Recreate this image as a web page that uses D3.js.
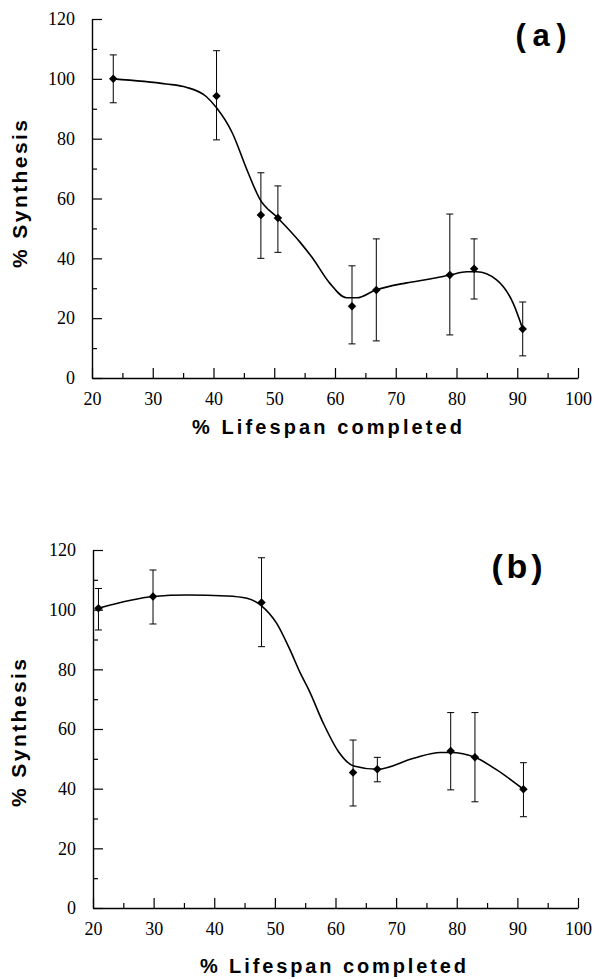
<!DOCTYPE html>
<html>
<head>
<meta charset="utf-8">
<script src="https://cdn.jsdelivr.net/npm/d3@7"></script>
<style>
  body { margin: 0; background: #fff; }
  svg { display: block; }
</style>
</head>
<body>
<svg id="chart" width="599" height="979"></svg>
<script>
// Panel (a) data: % lifespan completed vs % synthesis, with error bars
var lifespanA = [23.5, 40.5, 47.8, 50.6, 62.8, 66.8, 78.9, 82.9, 90.9];
var synthesisA = [100, 94.3, 54.5, 53.5, 24, 29.4, 34.4, 36.5, 16.4];
var errLowA = [92, 79.6, 40, 42, 11.4, 12.4, 14.4, 26.4, 7.4];
var errHighA = [108, 109.4, 68.6, 64.2, 37.5, 46.5, 54.8, 46.5, 25.4];

// fitted curve of panel (a)
var curveXA = [23.5, 32.2, 35.5, 38.8, 40.5, 43.1, 45.5, 47.6, 50.6, 54.2, 56.3, 59.1, 61.9, 63.6, 66.7, 71.8, 75.6, 78.9, 81.7, 83.3, 86.6, 89.3, 90.9];
var curveYA = [100, 98.3, 97.2, 94.1, 90.3, 81.9, 69.6, 59.9, 53.5, 45.5, 40.1, 31.8, 26.8, 26.8, 29.4, 31.8, 33.1, 34.4, 35.5, 35.5, 32.8, 25.1, 16.4];

// Panel (b) data
var lifespanB = [20.9, 29.9, 47.8, 62.9, 66.9, 79.0, 83.0, 91.0];
var synthesisB = [100.5, 104.4, 102.4, 45.4, 46.5, 52.6, 50.5, 39.8];
var errLowB = [93.2, 95.2, 87.6, 34.2, 42.3, 39.6, 35.6, 30.6];
var errHighB = [107.1, 113.3, 117.4, 56.3, 50.5, 65.5, 65.5, 48.7];

// fitted curve of panel (b)
var curveXB = [20.9, 30, 35.5, 42.1, 45.4, 47.8, 50.3, 52.5, 54.2, 55.6, 58.0, 60.5, 63.0, 66.9, 72.9, 77.3, 79.0, 83.0, 86.6, 91.0];
var curveYB = [100.5, 104.4, 104.9, 104.6, 103.8, 101.3, 95.4, 86.5, 78.7, 73.1, 61.9, 52.4, 47.6, 46.5, 50.2, 52.1, 52.1, 50.5, 46.3, 39.8];

// Axis ticks
var xMajor = [20, 30, 40, 50, 60, 70, 80, 90, 100];
var xMinor = [25, 35, 45, 55, 65, 75, 85, 95];
var yMajor = [0, 20, 40, 60, 80, 100, 120];
var yMinor = [10, 30, 50, 70, 90, 110];

var svg = d3.select("#chart");

function drawPanel(opt) {
  var x = d3.scaleLinear().domain([20, 100]).range([opt.left, opt.right]);
  var y = d3.scaleLinear().domain([0, 120]).range([opt.bottom, opt.top]);
  var g = svg.append("g");

  // x axis, ticks pointing inward
  g.append("g")
    .attr("transform", "translate(0," + opt.bottom + ")")
    .call(d3.axisBottom(x).tickValues(xMajor).tickSize(-10).tickSizeOuter(0).tickPadding(14).tickFormat(d3.format("d")));
  g.append("g")
    .attr("transform", "translate(0," + opt.bottom + ")")
    .call(d3.axisBottom(x).tickValues(xMinor).tickSize(-5).tickFormat(""))
    .select(".domain").remove();

  // y axis, ticks pointing inward
  g.append("g")
    .attr("transform", "translate(" + opt.left + ",0)")
    .call(d3.axisLeft(y).tickValues(yMajor).tickSize(-10).tickSizeOuter(0).tickPadding(17).tickFormat(d3.format("d")));
  g.append("g")
    .attr("transform", "translate(" + opt.left + ",0)")
    .call(d3.axisLeft(y).tickValues(yMinor).tickSize(-5).tickFormat(""))
    .select(".domain").remove();

  g.selectAll(".domain").attr("stroke", "#000").attr("stroke-width", 1.4);
  g.selectAll(".tick line").attr("stroke", "#000").attr("stroke-width", 1.2);
  g.selectAll(".tick text")
    .attr("fill", "#000")
    .style("font-family", "'Liberation Serif', 'Times New Roman', serif")
    .style("font-size", "18px");

  // fitted curve
  var pts = opt.cx.map(function(d, i) { return [d, opt.cy[i]]; });
  var line = d3.line()
    .x(function(d) { return x(d[0]); })
    .y(function(d) { return y(d[1]); })
    .curve(d3.curveMonotoneX);
  g.append("path")
    .datum(pts)
    .attr("fill", "none")
    .attr("stroke", "#000")
    .attr("stroke-width", 1.6)
    .attr("d", line);

  // error bars
  var data = opt.xs.map(function(d, i) {
    return { x: d, y: opt.ys[i], lo: opt.lo[i], hi: opt.hi[i] };
  });
  var eb = g.selectAll(".err").data(data).enter().append("g");
  eb.append("line")
    .attr("x1", function(d) { return x(d.x); })
    .attr("x2", function(d) { return x(d.x); })
    .attr("y1", function(d) { return y(d.lo); })
    .attr("y2", function(d) { return y(d.hi); })
    .attr("stroke", "#000").attr("stroke-width", 1);
  ["lo", "hi"].forEach(function(k) {
    eb.append("line")
      .attr("x1", function(d) { return x(d.x) - 3.5; })
      .attr("x2", function(d) { return x(d.x) + 3.5; })
      .attr("y1", function(d) { return y(d[k]); })
      .attr("y2", function(d) { return y(d[k]); })
      .attr("stroke", "#000").attr("stroke-width", 1);
  });

  // diamond markers
  g.selectAll(".pt").data(data).enter().append("path")
    .attr("d", d3.symbol(d3.symbolSquare, 36))
    .attr("transform", function(d) { return "translate(" + x(d.x) + "," + y(d.y) + ") rotate(45)"; })
    .attr("fill", "#000");

  // axis titles
  g.append("text")
    .attr("x", opt.xTitleX).attr("y", opt.xTitleY)
    .attr("dy", "0.35em")
    .attr("text-anchor", "middle")
    .attr("textLength", opt.xTitleLen).attr("lengthAdjust", "spacing")
    .style("font-family", "'Liberation Sans', Arial, sans-serif")
    .style("font-weight", "bold").style("font-size", "20px")
    .text("% Lifespan  completed");

  g.append("text")
    .attr("transform", "translate(" + opt.yTitleX + "," + opt.yTitleY + ") rotate(-90)")
    .attr("dy", "0.35em")
    .attr("text-anchor", "middle")
    .attr("textLength", 148).attr("lengthAdjust", "spacing")
    .style("font-family", "'Liberation Sans', Arial, sans-serif")
    .style("font-weight", "bold").style("font-size", "21px")
    .text("%  Synthesis");

  // panel letter
  g.append("text")
    .attr("x", opt.tagX).attr("y", opt.tagY)
    .attr("dy", "0.35em")
    .attr("text-anchor", "middle")
    .attr("textLength", 51).attr("lengthAdjust", "spacing")
    .style("font-family", "'Liberation Sans', Arial, sans-serif")
    .style("font-weight", "bold").style("font-size", opt.tagSize + "px")
    .text(opt.tag);
}

drawPanel({
  left: 92, right: 578, top: 19, bottom: 378,
  xs: lifespanA, ys: synthesisA, lo: errLowA, hi: errHighA,
  cx: curveXA, cy: curveYA,
  xTitleX: 327, xTitleY: 427, xTitleLen: 270,
  yTitleX: 20, yTitleY: 194,
  tag: "(a)", tagX: 541, tagY: 35, tagSize: 31
});

drawPanel({
  left: 93, right: 578, top: 550, bottom: 908,
  xs: lifespanB, ys: synthesisB, lo: errLowB, hi: errHighB,
  cx: curveXB, cy: curveYB,
  xTitleX: 333, xTitleY: 966, xTitleLen: 266,
  yTitleX: 19, yTitleY: 733,
  tag: "(b)", tagX: 517, tagY: 566, tagSize: 34
});
</script>
</body>
</html>
